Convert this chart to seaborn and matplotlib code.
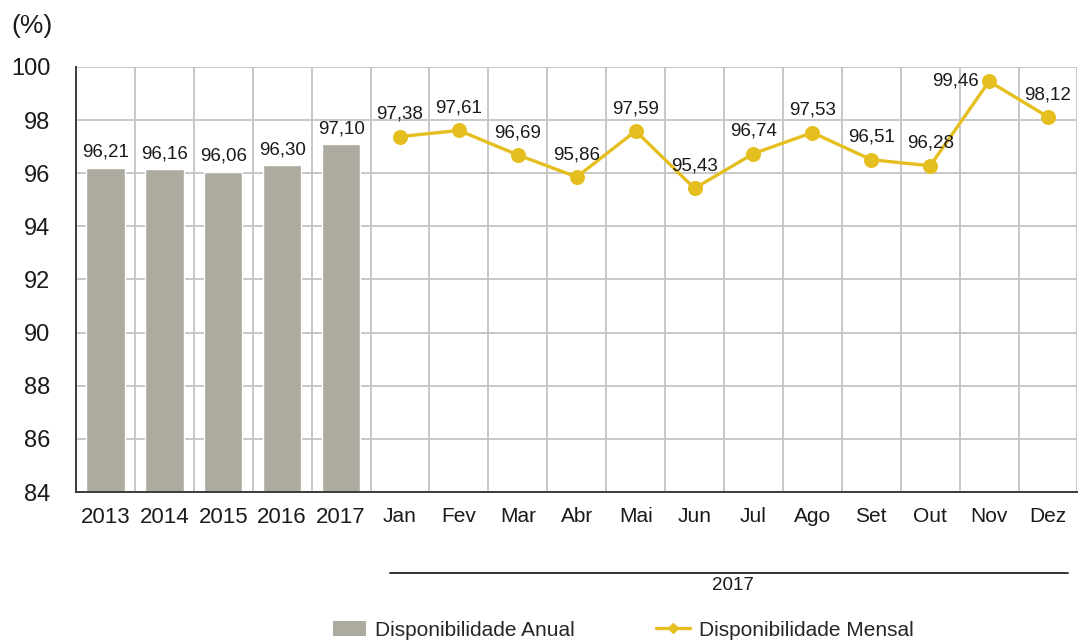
import matplotlib
matplotlib.use("Agg")
import matplotlib.pyplot as plt
import numpy as np
import pandas as pd
import seaborn as sns
from matplotlib.lines import Line2D
from matplotlib.patches import Patch

years = ["2013", "2014", "2015", "2016", "2017"]
anual = [96.21, 96.16, 96.06, 96.30, 97.10]
months = ["Jan", "Fev", "Mar", "Abr", "Mai", "Jun", "Jul", "Ago", "Set", "Out", "Nov", "Dez"]
mensal = [97.38, 97.61, 96.69, 95.86, 97.59, 95.43, 96.74, 97.53, 96.51, 96.28, 99.46, 98.12]
categories = years + months
y_ticks = list(range(84, 101, 2))

BAR_COLOR = "#adab9f"
LINE_COLOR = "#e5bf1f"
GRID_COLOR = "#c4c4c4"
SPINE_COLOR = "#3c3c3c"
TEXT_COLOR = "#1a1a1a"

sns.set_theme(style="white")
plt.rcParams["font.family"] = ["Liberation Sans", "DejaVu Sans"]

df_anual = pd.DataFrame({"cat": years, "val": anual})
df_mensal = pd.DataFrame({"cat": months, "val": mensal})

fig = plt.figure(figsize=(10.78, 6.44), dpi=100)
ax = fig.add_axes([0.0705, 0.236, 0.929, 0.660])

sns.barplot(data=df_anual, x="cat", y="val", order=categories, color=BAR_COLOR,
            width=0.65, saturation=1, ax=ax, zorder=2)
sns.pointplot(data=df_mensal, x="cat", y="val", order=categories, color=LINE_COLOR,
              markers="o", markersize=9, linewidth=2.4, ax=ax, zorder=3)

ax.set_ylim(84, 100)
ax.set_xlim(-0.5, len(categories) - 0.5)
ax.set_yticks(y_ticks)
ax.set_yticklabels([str(t) for t in y_ticks], fontsize=17)
ax.set_xlabel("")
ax.set_ylabel("")

# category labels at centers, tick marks / grid at the boundaries
ax.set_xticks(np.arange(len(categories)))
ax.set_xticklabels(categories)
for lab, cat in zip(ax.get_xticklabels(), categories):
    lab.set_fontsize(16 if cat in years else 15)
ax.set_xticks(np.arange(len(categories) + 1) - 0.5, minor=True)
ax.tick_params(axis="x", which="major", length=0, pad=11, colors=TEXT_COLOR)
ax.tick_params(axis="x", which="minor", length=10, width=1.3, direction="inout", color=SPINE_COLOR)
ax.tick_params(axis="y", length=9, width=1.3, direction="inout", pad=14, colors=TEXT_COLOR)
ax.tick_params(axis="y", color=SPINE_COLOR)

ax.grid(True, axis="y", color=GRID_COLOR, linewidth=1.3, zorder=0)
ax.grid(True, axis="x", which="minor", color=GRID_COLOR, linewidth=1.3, zorder=0)
ax.grid(False, axis="x", which="major")
ax.set_axisbelow(True)

for side in ["top", "right"]:
    ax.spines[side].set_visible(False)
for side in ["left", "bottom"]:
    ax.spines[side].set_color(SPINE_COLOR)
    ax.spines[side].set_linewidth(1.4)

# value labels
for i, v in enumerate(anual):
    ax.annotate(f"{v:.2f}".replace(".", ","), (i, v), xytext=(0, 5), textcoords="offset points",
                ha="center", va="bottom", fontsize=13.5, color=TEXT_COLOR)
for j, v in enumerate(mensal):
    i = len(years) + j
    if months[j] == "Nov":
        xy_off, ha, va = (-7, 0), "right", "center"
    else:
        xy_off, ha, va = (0, 10), "center", "bottom"
    ax.annotate(f"{v:.2f}".replace(".", ","), (i, v), xytext=xy_off, textcoords="offset points",
                ha=ha, va=va, fontsize=13.5, color=TEXT_COLOR)

fig.text(0.011, 1 - 26 / 644, "(%)", fontsize=19, ha="left", va="center", color=TEXT_COLOR)

# bracket under months
fig.add_artist(Line2D([390 / 1078, 1068 / 1078], [1 - 573 / 644, 1 - 573 / 644],
                      color="#222222", linewidth=1.3))
fig.text(733 / 1078, 1 - 585 / 644, "2017", fontsize=13.5, ha="center", va="center",
         color=TEXT_COLOR)

handles = [Patch(facecolor=BAR_COLOR, edgecolor="none"),
           Line2D([0], [0], color=LINE_COLOR, linewidth=2.4, marker="D", markersize=5)]
fig.legend(handles, ["Disponibilidade Anual", "Disponibilidade Mensal"], ncol=2,
           loc="center", bbox_to_anchor=(0.578, 1 - 630 / 644), frameon=False,
           prop={"size": 15}, columnspacing=3.9, handlelength=1.6,
           handletextpad=0.45)

fig.savefig("out.png", dpi=100)
